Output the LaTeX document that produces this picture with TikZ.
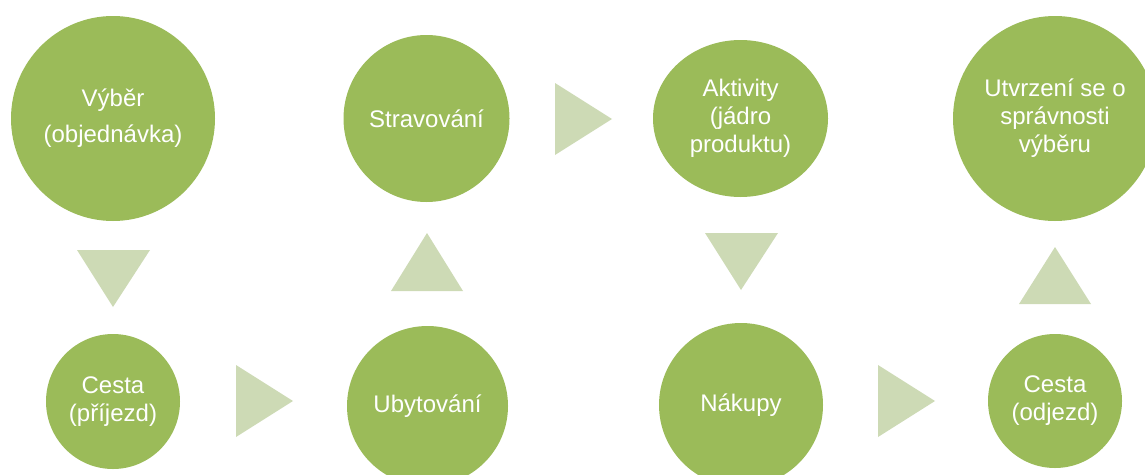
\documentclass[tikz,border=0pt]{standalone}
\usepackage{fontspec}
\setmainfont{Liberation Sans}
\usetikzlibrary{shapes.geometric}
\definecolor{circgreen}{RGB}{155,187,89}
\definecolor{arrowgreen}{RGB}{205,218,181}
\tikzset{
  bub/.style={ellipse, fill=circgreen, text=white, inner sep=0pt, align=center,
    font=\fontsize{24}{28}\selectfont},
  arr/.style={fill=arrowgreen, draw=none}
}
\begin{document}
\begin{tikzpicture}[x=1pt,y=-1pt]
\useasboundingbox (0,0) rectangle (1145,474);
\clip (0,0) rectangle (1145,474);
% top row
\node[bub, minimum width=204pt, minimum height=205pt, font=\fontsize{24}{36}\selectfont] (vyber) at (113,118.5) {Výběr\\(objednávka)};
\node[bub, minimum width=166pt, minimum height=167pt] (strav) at (426.5,118.5) {Stravování};
\node[bub, minimum width=175pt, minimum height=157pt] (aktiv) at (740.5,118.5) {Aktivity\\(jádro\\produktu)};
\node[bub, minimum width=204pt, minimum height=205pt] (utvr) at (1055,118.5) {Utvrzení se o\\správnosti\\výběru};
% bottom row
\node[bub, minimum width=134pt, minimum height=135pt] (cesta1) at (113,401.5) {Cesta\\(příjezd)};
\node[bub, minimum width=161pt, minimum height=160pt] (ubyt) at (427.5,406) {Ubytování};
\node[bub, minimum width=164pt, minimum height=164pt] (nakup) at (741,405) {Nákupy};
\node[bub, minimum width=134pt, minimum height=134pt] (cesta2) at (1055,401) {Cesta\\(odjezd)};
% arrows (triangles)
\fill[arr] (77,250) -- (150,250) -- (113,307) -- cycle;
\fill[arr] (236,365) -- (293,401) -- (236,437) -- cycle;
\fill[arr] (391,291) -- (463,291) -- (427,233) -- cycle;
\fill[arr] (555,83) -- (612,119) -- (555,155) -- cycle;
\fill[arr] (705,233) -- (778,233) -- (741,290) -- cycle;
\fill[arr] (878,365) -- (935,401) -- (878,437) -- cycle;
\fill[arr] (1019,304) -- (1091,304) -- (1055,247) -- cycle;
\end{tikzpicture}
\end{document}
